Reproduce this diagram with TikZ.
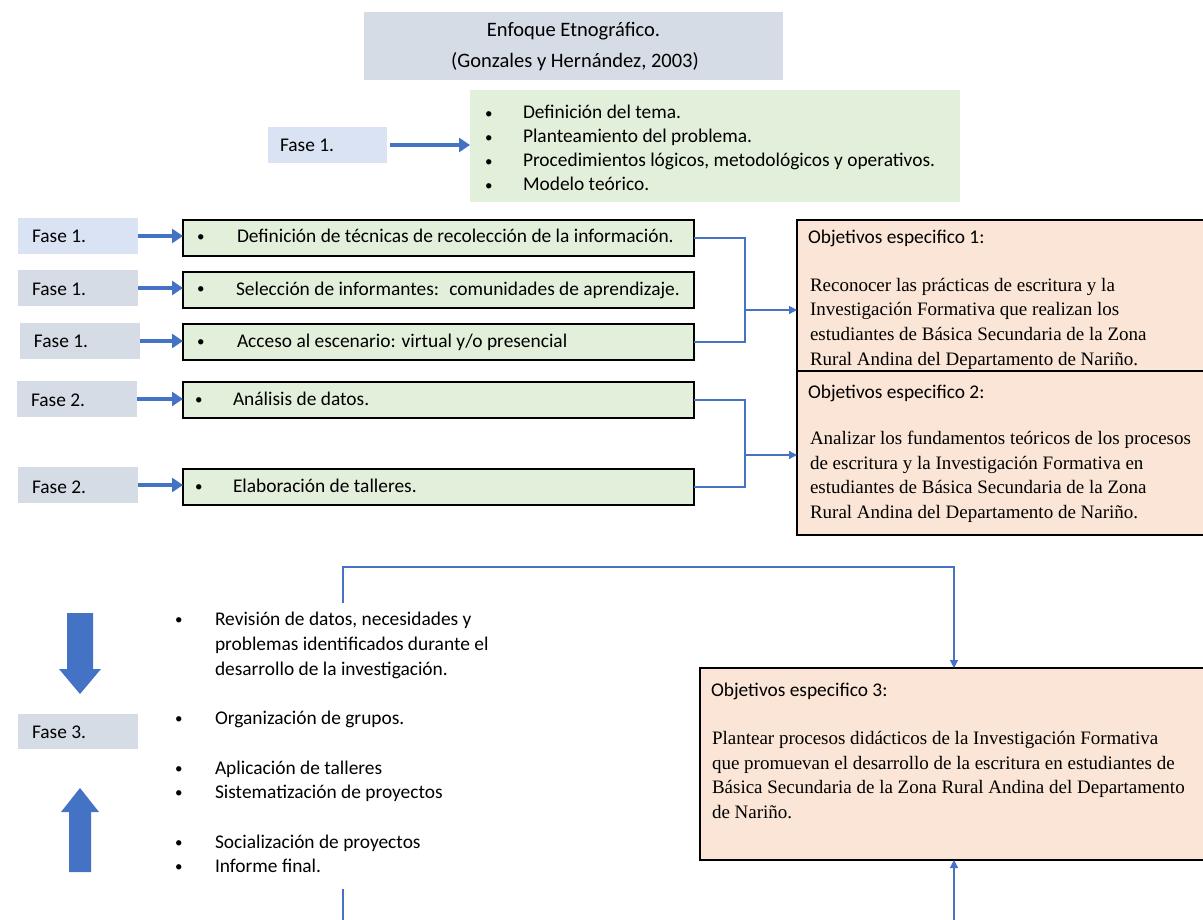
\documentclass[tikz,border=0pt]{standalone}
\usepackage{fontspec}
\setmainfont{Carlito}
\newfontfamily\seriff{Liberation Serif}
\usetikzlibrary{arrows.meta,calc}
\definecolor{hdr}{HTML}{D6DCE5}
\definecolor{lblue}{HTML}{DAE3F3}
\definecolor{lgreen}{HTML}{E2EFDA}
\definecolor{lpeach}{HTML}{FBE5D6}
\definecolor{bluec}{HTML}{4472C4}
\begin{document}
\begin{tikzpicture}[x=1pt,y=-1pt,
  every node/.style={inner sep=0pt, outer sep=0pt},
  fasebox/.style={anchor=north west, fill=hdr, minimum height=36pt, minimum width=120pt},
  itembox/.style={anchor=north west, fill=lgreen, draw=black, line width=1.3pt, minimum height=36pt, minimum width=511pt},
  cal/.style={anchor=base west, font=\fontsize{19.4}{23}\selectfont},
  bulletmark/.style={anchor=base west, font=\fontsize{15}{18}\selectfont},
  objbox/.style={anchor=north west, fill=lpeach, draw=black, line width=1.2pt},
  ser/.style={anchor=base west, font=\fontsize{19}{23}\selectfont\seriff},
  bigarrow/.style={line width=4.5pt, draw=bluec, -{Triangle[length=11pt,width=14pt]}},
  conn/.style={line width=1.2pt, draw=bluec},
  connarrow/.style={conn, -{Triangle[length=8pt,width=8pt]}}
]
\useasboundingbox (0,0) rectangle (1203,920);

% title
\node[anchor=north west, fill=hdr, minimum width=419pt, minimum height=68pt] (title) at (364,12) {};
\node[anchor=base, font=\fontsize{20.5}{24}\selectfont] (titlea) at (573.5,37) {Enfoque Etnográfico.};
\node[anchor=base, font=\fontsize{20.5}{24}\selectfont] (titleb) at (575,68) {(Gonzales y Hernández, 2003)};

% top phase
\node[fasebox, fill=lblue, minimum width=119pt] (f0) at (268,127) {};
\node[cal] (f0t) at (280,152) {Fase 1.};
\node[anchor=north west, fill=lgreen, minimum width=490pt, minimum height=112pt] (g0) at (470,90) {};
\foreach \t [count=\i] in {{Definición del tema.},{Planteamiento del problema.},{Procedimientos lógicos, metodológicos y operativos.},{Modelo teórico.}} {
  \node[bulletmark] (g0b\i) at (485,95+24*\i) {•};
  \node[cal] (g0t\i) at (523,95+24*\i) {\t};
}
\draw[bigarrow] (f0.east) ++(3,0) -- (g0.west |- f0.east);

% left column
\node[fasebox, fill=lblue] (f1) at (18,218) {};
\node[fasebox] (f2) at (18,270) {};
\node[fasebox] (f3) at (20,323) {};
\node[fasebox] (f4) at (17,381) {};
\node[fasebox] (f5) at (18,467) {};
\node[cal] (f1t) at (32,243) {Fase 1.};
\node[cal] (f2t) at (32,296) {Fase 1.};
\node[cal] (f3t) at (34,348) {Fase 1.};
\node[cal] (f4t) at (31,406) {Fase 2.};
\node[cal] (f5t) at (32,493) {Fase 2.};

\node[itembox] (g1) at (183,220) {};
\node[itembox] (g2) at (183,272) {};
\node[itembox] (g3) at (183,324) {};
\node[itembox] (g4) at (183,382) {};
\node[itembox] (g5) at (183,469) {};
\node[bulletmark] (g1b) at (197,242) {•};
\node[bulletmark] (g2b) at (197,294) {•};
\node[bulletmark] (g3b) at (197,346) {•};
\node[bulletmark] (g4b) at (195,404) {•};
\node[bulletmark] (g5b) at (195,491) {•};
\node[cal] (g1t) at (237,243) {Definición de técnicas de recolección de la información.};
\node[cal] (g2t) at (236,295) {Selección de informantes:~ comunidades de aprendizaje.};
\node[cal] (g3t) at (237,347) {Acceso al escenario: virtual y/o presencial};
\node[cal] (g4t) at (233,405) {Análisis de datos.};
\node[cal] (g5t) at (233,492) {Elaboración de talleres.};

\foreach \i in {1,...,5} {\draw[bigarrow] (f\i.east) -- (g\i.west |- f\i.east);}

% objectives
\node[objbox, minimum width=410pt, minimum height=151pt] (o1) at (797,220) {};
\node[cal] (o1a) at (808,244) {Objetivos especifico 1:};
\foreach \t [count=\i] in {{Reconocer las prácticas de escritura y la},{Investigación Formativa que realizan los},{estudiantes de Básica Secundaria de la Zona},{Rural Andina del Departamento de Nariño.}} {
  \node[ser] (o1t\i) at (810,267+24.5*\i) {\t};
}
\node[objbox, minimum width=410pt, minimum height=164pt] (o2) at (797,371) {};
\node[cal] (o2a) at (808,398) {Objetivos especifico 2:};
\foreach \t [count=\i] in {{Analizar los fundamentos teóricos de los procesos},{de escritura y la Investigación Formativa en},{estudiantes de Básica Secundaria de la Zona},{Rural Andina del Departamento de Nariño.}} {
  \node[ser] (o2t\i) at (810,420+24.5*\i) {\t};
}

\coordinate (j1) at (745,310);
\draw[conn] (g1.east) -- (g1.east -| j1) -- (g3.east -| j1) -- (g3.east);
\draw[connarrow] (j1) -- (j1 -| o1.west);
\coordinate (j2) at (745,455);
\draw[conn] (g4.east) -- (g4.east -| j2) -- (g5.east -| j2) -- (g5.east);
\draw[connarrow] (j2) -- (j2 -| o2.west);

% phase 3
\node[fasebox, minimum height=35pt] (f6) at (18,714) {};
\node[cal] (f6t) at (32,738) {Fase 3.};
\fill[bluec] (67,613) -- (93,613) -- (93,669) -- (101,669) -- (80,694) -- (59,669) -- (67,669) -- cycle;
\fill[bluec] (80,788) -- (99,812) -- (91,812) -- (91,872) -- (69,872) -- (69,812) -- (61,812) -- cycle;

\foreach \t/\y [count=\i] in {{Revisión de datos, necesidades y}/625,{Organización de grupos.}/724,{Aplicación de talleres}/774,{Sistematización de proyectos}/798,{Socialización de proyectos}/848,{Informe final.}/872} {
  \node[bulletmark] (b3b\i) at (175,\y-1) {•};
  \node[cal] (b3t\i) at (215,\y) {\t};
}
\node[cal] (b3c1) at (215,650) {problemas identificados durante el};
\node[cal] (b3c2) at (215,675) {desarrollo de la investigación.};

\node[objbox, minimum width=507pt, minimum height=192pt] (o3) at (700,668) {};
\node[cal] (o3a) at (711,696) {Objetivos especifico 3:};
\foreach \t [count=\i] in {{Plantear procesos didácticos de la Investigación Formativa},{que promuevan el desarrollo de la escritura en estudiantes de},{Básica Secundaria de la Zona Rural Andina del Departamento},{de Nariño.}} {
  \node[ser] (o3t\i) at (712,720+24.5*\i) {\t};
}

\coordinate (c1) at (343,603);
\coordinate (c2) at (954,567);
\draw[connarrow] (c1) |- (c2) -- (c2 |- o3.north);
\coordinate (c3) at (343,889);
\coordinate (c4) at (954,926);
\draw[connarrow] (c3) |- (c4) -- (c4 |- o3.south);
\end{tikzpicture}
\end{document}
